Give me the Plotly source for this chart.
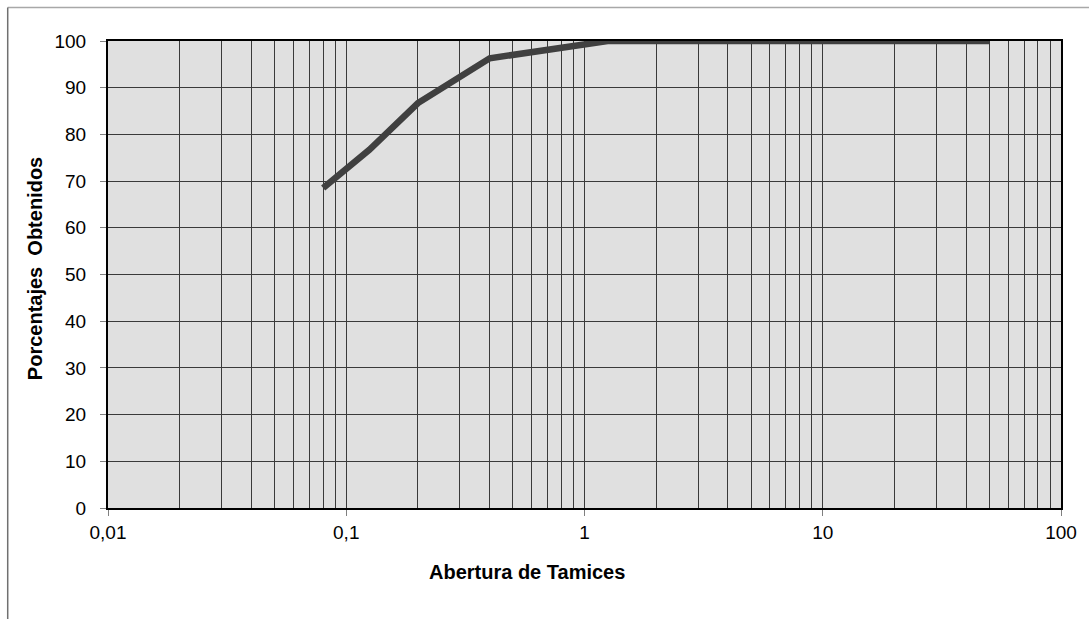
import plotly.graph_objects as go

aberturas = [0.08, 0.125, 0.2, 0.4, 1.25, 2.5, 5, 10, 20, 50]
porcentajes = [68.5, 76.7, 86.7, 96.3, 100, 100, 100, 100, 100, 100]

x_tick_vals = [0.01, 0.1, 1, 10, 100]
x_tick_text = ["0,01", "0,1", "1", "10", "100"]
y_tick_vals = list(range(0, 101, 10))

W, H = 1089, 619
L, R, T, B = 108, 1063, 41, 508

fig = go.Figure()
fig.add_trace(go.Scatter(
    x=aberturas, y=porcentajes, mode="lines",
    line=dict(color="#404040", width=6.5), showlegend=False,
))

fig.update_layout(
    width=W, height=H,
    margin=dict(l=L, r=W - R, t=T, b=H - B, pad=0),
    paper_bgcolor="white", plot_bgcolor="#e0e0e0",
    font=dict(family="Liberation Sans, Arial, sans-serif", size=19, color="black"),
)

fig.update_xaxes(
    type="log", range=[-2, 2],
    tickvals=x_tick_vals, ticktext=x_tick_text,
    ticks="outside", ticklen=6, tickcolor="#808080",
    ticklabelstandoff=0,
    showgrid=True, gridcolor="#3a3a3a", gridwidth=1,
    minor=dict(showgrid=True, gridcolor="#3a3a3a", gridwidth=1,
               tickvals=[m * 10 ** e for e in range(-2, 2) for m in range(2, 10)]),
    showline=True, linecolor="black", linewidth=2, mirror=True,
    zeroline=False,
)
fig.update_yaxes(
    range=[0, 100], tickvals=y_tick_vals,
    ticks="outside", ticklen=6, tickcolor="#808080",
    ticklabelstandoff=10,
    showgrid=True, gridcolor="#3a3a3a", gridwidth=1,
    showline=True, linecolor="black", linewidth=2, mirror=True,
    zeroline=False,
)

pw, ph = R - L, B - T
def px(xp): return (xp - L) / pw
def py(yp): return (B - yp) / ph

fig.add_shape(type="line", xref="paper", yref="paper",
              x0=px(7.5), x1=px(1095), y0=py(7.5), y1=py(7.5),
              line=dict(color="#a8a8a8", width=1.5))
fig.add_shape(type="line", xref="paper", yref="paper",
              x0=px(7.5), x1=px(7.5), y0=py(7.5), y1=py(625),
              line=dict(color="#707070", width=1.5))

fig.add_annotation(text="<b>Abertura de Tamices</b>", xref="paper", yref="paper",
                   x=px(528), y=py(572), showarrow=False,
                   font=dict(size=20), xanchor="center", yanchor="middle")
fig.add_annotation(text="<b>Porcentajes  Obtenidos</b>", xref="paper", yref="paper",
                   x=px(35), y=py(269), showarrow=False, textangle=-90,
                   font=dict(size=20), xanchor="center", yanchor="middle")

fig.write_html("out.html", config={"displayModeBar": False},
               post_script="document.body.style.margin='0';document.body.style.overflow='hidden';")
